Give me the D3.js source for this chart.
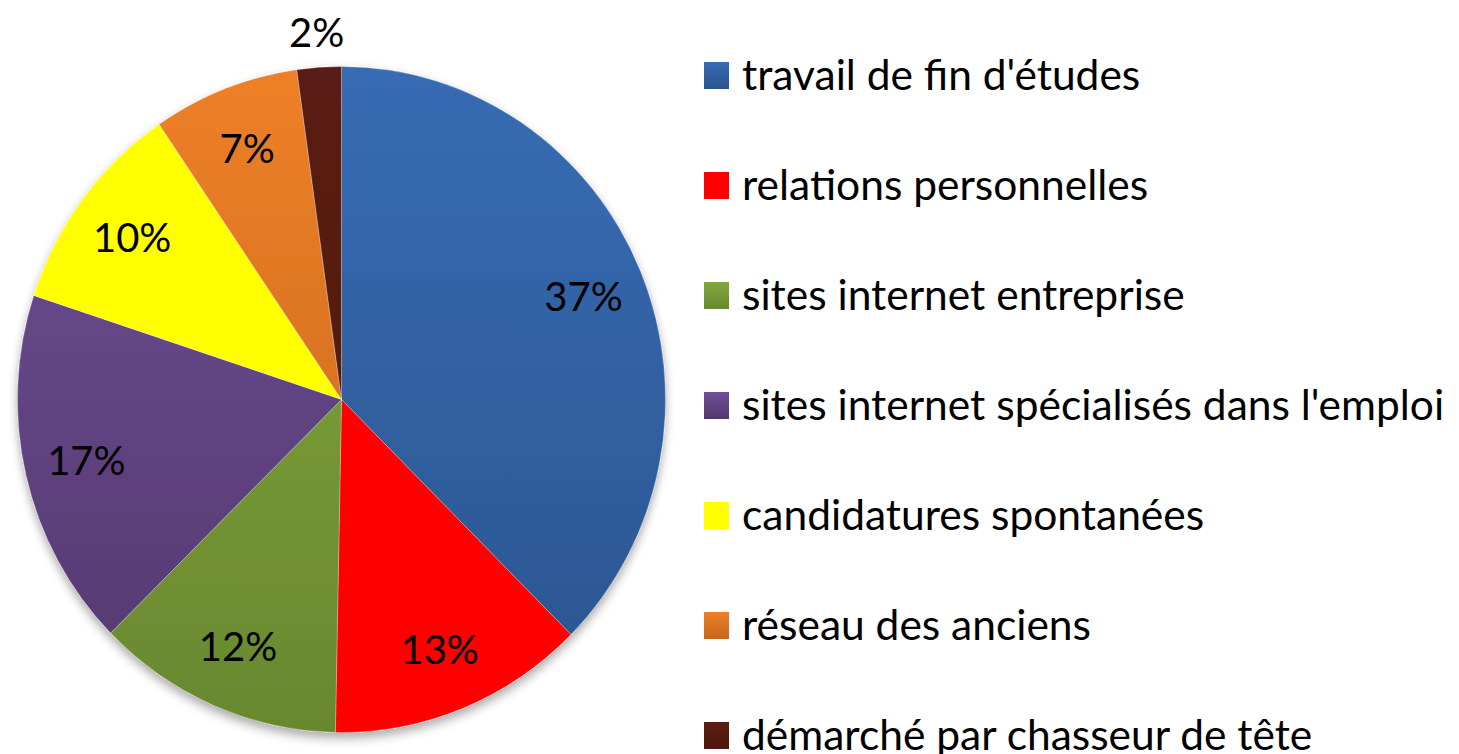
<!DOCTYPE html>
<html>
<head>
<meta charset="utf-8">
<script src="https://cdn.jsdelivr.net/npm/d3@7"></script>
<style>
  body { margin: 0; background: #fff; }
  svg { display: block; font-family: Lato, "Open Sans", sans-serif; }
</style>
</head>
<body>
<div class="graph"></div>
<script>
const width = 1459;
const height = 754;

// data
const categories = [
  "travail de fin d'études",
  "relations personnelles",
  "sites internet entreprise",
  "sites internet spécialisés dans l'emploi",
  "candidatures spontanées",
  "réseau des anciens",
  "démarché par chasseur de tête"
];
const values = [37.4, 12.8, 12.3, 17.4, 10.4, 7.3, 2.2];
const topColors = ["#376cb4", "#ff0000", "#85a83c", "#6f4f98", "#ffff00", "#ee8027", "#5a1d12"];
const bottomColors = ["#2a548e", "#ff0000", "#68882f", "#53386d", "#ffff00", "#c4661d", "#4e180e"];

const cx = 341.5, cy = 399.5;
const radius = 324;
const stretchY = 333 / 324;

const svg = d3.select(".graph")
  .append("svg")
  .attr("width", width)
  .attr("height", height);

const defs = svg.append("defs");

const shadow = defs.append("filter")
  .attr("id", "shadow")
  .attr("x", "-10%").attr("y", "-10%")
  .attr("width", "120%").attr("height", "120%");
shadow.append("feDropShadow")
  .attr("dx", 0).attr("dy", 5)
  .attr("stdDeviation", 5)
  .attr("flood-color", "#000")
  .attr("flood-opacity", 0.35);

categories.forEach((c, i) => {
  const g = defs.append("linearGradient")
    .attr("id", "grad" + i)
    .attr("gradientUnits", "userSpaceOnUse")
    .attr("x1", 0).attr("y1", -radius)
    .attr("x2", 0).attr("y2", radius);
  g.append("stop").attr("offset", "0%").attr("stop-color", topColors[i]);
  g.append("stop").attr("offset", "100%").attr("stop-color", bottomColors[i]);

  const lg = defs.append("linearGradient")
    .attr("id", "lg" + i)
    .attr("x1", 0).attr("y1", 0).attr("x2", 0).attr("y2", 1);
  lg.append("stop").attr("offset", "0%").attr("stop-color", topColors[i]);
  lg.append("stop").attr("offset", "100%").attr("stop-color", bottomColors[i]);
});

const total = d3.sum(values);
const pie = d3.pie().sort(null).value(d => d)(values);
const arc = d3.arc().innerRadius(0).outerRadius(radius);
const labelArc = d3.arc().innerRadius(262).outerRadius(262);
const outerArc = d3.arc().innerRadius(358).outerRadius(358);

const pieG = svg.append("g")
  .attr("transform", `translate(${cx},${cy}) scale(1,${stretchY})`);

pieG.append("g")
  .attr("filter", "url(#shadow)")
  .selectAll("path")
  .data(pie)
  .enter().append("path")
    .attr("d", arc)
    .attr("fill", (d, i) => `url(#grad${i})`)
    .attr("stroke", "rgba(255,255,255,0.35)")
    .attr("stroke-width", 0.8);

pieG.selectAll("text.label")
  .data(pie)
  .enter().append("text")
    .attr("class", "label")
    .attr("transform", d => {
      const p = (d.value / total) < 0.05 ? outerArc.centroid(d) : labelArc.centroid(d);
      return `translate(${p[0]},${p[1]})`;
    })
    .attr("text-anchor", "middle")
    .attr("dy", "0.35em")
    .attr("font-size", 40)
    .attr("fill", "#000")
    .text(d => Math.round(d.value / total * 100) + "%");

// legend
const legend = svg.append("g")
  .attr("transform", "translate(704,0)");

const rowY = d3.scalePoint()
  .domain(categories)
  .range([75, 735]);

const item = legend.selectAll("g.item")
  .data(categories)
  .enter().append("g")
    .attr("class", "item")
    .attr("transform", d => `translate(0,${rowY(d)})`);

item.append("rect")
  .attr("x", 0)
  .attr("y", -13)
  .attr("width", 25)
  .attr("height", 27)
  .attr("fill", (d, i) => `url(#lg${i})`);

item.append("text")
  .attr("x", 38)
  .attr("dy", "0.35em")
  .attr("font-size", 42.5)
  .attr("fill", "#000")
  .text(d => d);
</script>
</body>
</html>
